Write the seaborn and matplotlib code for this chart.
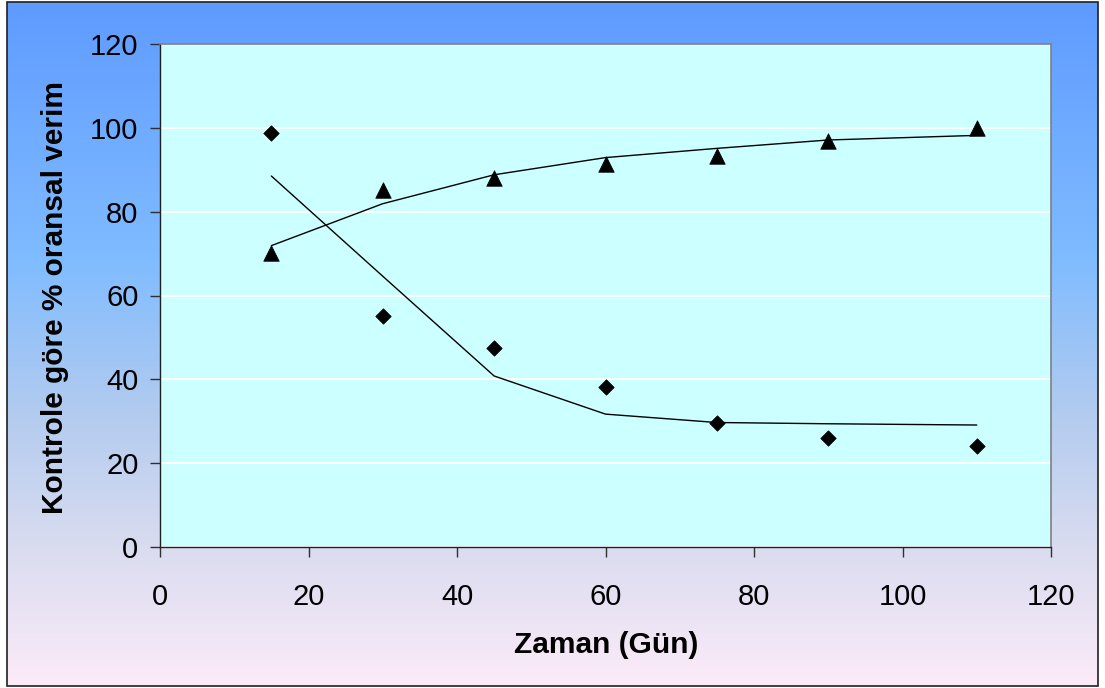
import numpy as np
import pandas as pd
import matplotlib
matplotlib.use("Agg")
import matplotlib.pyplot as plt
from matplotlib.colors import LinearSegmentedColormap
from matplotlib.patches import Rectangle
import seaborn as sns

# ---- data ----
days = [15, 30, 45, 60, 75, 90, 110]
diamond_vals = [98.8, 55.1, 47.5, 38.2, 29.6, 26.0, 24.1]
triangle_vals = [70.2, 85.2, 88.1, 91.4, 93.3, 96.9, 100.0]
diamond_fit = [88.5, 64.6, 40.8, 31.7, 29.7, 29.4, 29.1]
triangle_fit = [71.9, 81.9, 88.8, 92.9, 95.1, 97.1, 98.2]
x_ticks = [0, 20, 40, 60, 80, 100, 120]
y_ticks = [0, 20, 40, 60, 80, 100, 120]
x_label = "Zaman (Gün)"
y_label = "Kontrole göre % oransal verim"

sns.set_theme(style="white")
plt.rcParams['font.family'] = ['Liberation Sans', 'DejaVu Sans']

W, H = 1105, 688
fig = plt.figure(figsize=(W / 100, H / 100), dpi=100)
fig.patch.set_facecolor("white")

# gradient background inside the frame
fl, fb, fr, ft = 7 / W, 2 / H, 1098 / W, 686 / H
bg = fig.add_axes([fl, fb, fr - fl, ft - fb], zorder=0)
cmap = LinearSegmentedColormap.from_list(
    "bg", [(0.0, "#5F9BFF"), (0.38, "#80BCFF"), (0.6, "#B2CBEF"),
           (0.8, "#DADCF0"), (1.0, "#FCEBF8")])
grad = np.linspace(0, 1, 256).reshape(-1, 1)
bg.imshow(grad, aspect="auto", cmap=cmap, extent=[0, 1, 0, 1], origin="upper")
bg.set_axis_off()
fig.patches.append(Rectangle((fl, fb), fr - fl, ft - fb, transform=fig.transFigure,
                             fill=False, edgecolor="#202020", linewidth=1.2, zorder=5))

ax = fig.add_axes([160 / W, (H - 547) / H, 891 / W, 503 / H], zorder=1)
ax.set_facecolor("#CCFFFF")

df_d = pd.DataFrame({"x": days, "y": diamond_vals})
df_t = pd.DataFrame({"x": days, "y": triangle_vals})
df_df = pd.DataFrame({"x": days, "y": diamond_fit})
df_tf = pd.DataFrame({"x": days, "y": triangle_fit})

sns.lineplot(data=df_df, x="x", y="y", color="black", linewidth=1.0, ax=ax, zorder=3)
sns.lineplot(data=df_tf, x="x", y="y", color="black", linewidth=1.0, ax=ax, zorder=3)
sns.scatterplot(data=df_d, x="x", y="y", marker="D", s=62, color="black",
                edgecolor="black", linewidth=0.5, ax=ax, zorder=4)
sns.scatterplot(data=df_t, x="x", y="y", marker="^", s=125, color="black",
                edgecolor="black", linewidth=0.5, ax=ax, zorder=4)

ax.set_xlim(0, 120)
ax.set_ylim(0, 120)
ax.set_xticks(x_ticks)
ax.set_yticks(y_ticks)
ax.set_xticklabels([str(t) for t in x_ticks], fontsize=21, color="black")
ax.set_yticklabels([str(t) for t in y_ticks], fontsize=21, color="black")
ax.yaxis.grid(True, color="white", linewidth=1.3)
ax.xaxis.grid(False)
ax.set_axisbelow(True)

ax.tick_params(axis="both", which="major", direction="out", length=7, width=1.0,
               color="#303030", bottom=True, left=True)
ax.tick_params(axis="y", pad=8.5)
ax.tick_params(axis="x", pad=19)
for side in ["left", "bottom"]:
    ax.spines[side].set_color("#202020")
    ax.spines[side].set_linewidth(1.0)
for side in ["top", "right"]:
    ax.spines[side].set_color("#808080")
    ax.spines[side].set_linewidth(1.2)
    ax.spines[side].set_visible(True)

ax.set_xlabel("")
ax.set_ylabel("")
fig.text(606 / W, 1 - 645 / H, x_label, ha="center", va="center",
         fontsize=21.5, fontweight="bold", color="black")
fig.text(55 / W, 1 - 297 / H, y_label, ha="center", va="center", rotation=90,
         fontsize=21.5, fontweight="bold", color="black")

fig.savefig("out.png", dpi=100, facecolor=fig.get_facecolor())
